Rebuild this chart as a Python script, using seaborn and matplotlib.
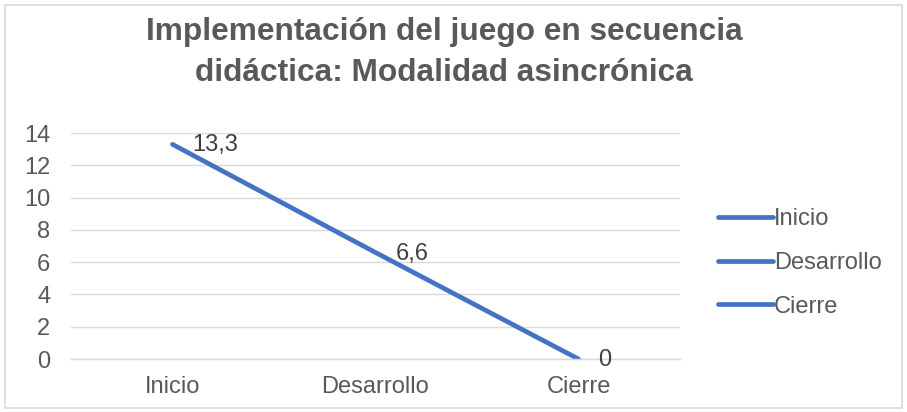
import matplotlib
matplotlib.use("Agg")
import matplotlib.pyplot as plt
import seaborn as sns
import pandas as pd
from matplotlib.lines import Line2D
from matplotlib.patches import Rectangle

# datos
categorias = ["Inicio", "Desarrollo", "Cierre"]
valores = [13.3, 6.6, 0]
etiquetas = ["13,3", "6,6", "0"]
titulo = "Implementación del juego en secuencia\ndidáctica: Modalidad asincrónica"

azul = "#4472C4"
gris_texto = "#595959"
gris_linea = "#D9D9D9"

sns.set_theme(style="white")
plt.rcParams['font.family'] = ['Liberation Sans', 'DejaVu Sans']

df = pd.DataFrame({"fase": categorias, "valor": valores})

fig = plt.figure(figsize=(9.07, 4.12), dpi=100)
ax = fig.add_axes([0.0783, 0.1286, 0.6714, 0.5484])

sns.lineplot(data=df, x="fase", y="valor", ax=ax, color=azul, linewidth=3.4,
             sort=False, solid_capstyle="round")

ax.set_xlim(-0.5, 2.5)
ax.set_ylim(0, 14)
ax.set_yticks(range(0, 15, 2))
ax.set_xlabel("")
ax.set_ylabel("")
ax.grid(axis="y", color=gris_linea, linewidth=1)
ax.set_axisbelow(True)
for s in ["top", "right", "left"]:
    ax.spines[s].set_visible(False)
ax.spines["bottom"].set_color(gris_linea)
ax.spines["bottom"].set_linewidth(1)

ax.tick_params(axis="both", labelsize=17, labelcolor=gris_texto, length=0)
ax.tick_params(axis="x", pad=12)
ax.tick_params(axis="y", pad=15)
ax.set_xticks([-0.5, 0.5, 1.5, 2.5], minor=True)
ax.tick_params(axis="x", which="minor", length=6, color=gris_linea, width=1)

# etiquetas de datos a la derecha
for i, (v, t) in enumerate(zip(valores, etiquetas)):
    ax.annotate(t, (i, v), xytext=(20, -1), textcoords="offset pixels",
                ha="left", va="center", fontsize=17, color="#404040")

# leyenda (una entrada por categoría, como en el original)
handles = [Line2D([0], [0], color=azul, linewidth=3.4, solid_capstyle="round") for _ in categorias]
fig.legend(handles, categorias, loc="center left", bbox_to_anchor=(0.792, 0.362),
           frameon=False, fontsize=17, labelcolor=gris_texto, handlelength=2.3,
           handletextpad=0.05, labelspacing=0.92, borderpad=0, borderaxespad=0)

fig.text(0.49, 0.872, titulo, ha="center", va="center", fontsize=22.8, fontweight="bold",
         color=gris_texto, linespacing=1.48)

# borde del gráfico
fig.patches.append(Rectangle((0.006, 0.01), 0.988, 0.978, transform=fig.transFigure,
                             fill=False, edgecolor=gris_linea, linewidth=1.2))

fig.savefig("out.png", dpi=100)
